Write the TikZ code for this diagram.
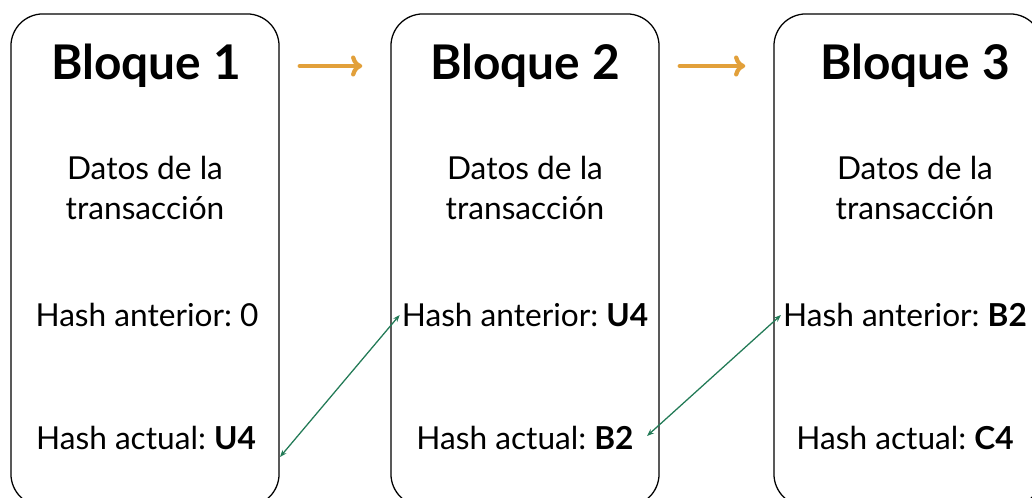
\documentclass[tikz,border=0pt]{standalone}
\usepackage{fontspec}
\setmainfont{Lato}
\usepackage{tikz}
\usetikzlibrary{arrows.meta}
\usetikzlibrary{positioning}
\frenchspacing
\definecolor{naranja}{RGB}{226,160,58}
\definecolor{verde}{RGB}{34,122,86}
\tikzset{bloque/.style = {draw, line width = 0.9pt, rounded corners = 0.8cm, minimum width = 6.7cm, minimum height = 12.3cm}}
\tikzset{titulo/.style = {font = \fontsize{34}{36}\selectfont\bfseries}}
\tikzset{texto/.style = {font = \fontsize{22.5}{28}\selectfont, align = center}}
\tikzset{flecha/.style = {naranja, line width = 3pt, line cap = round, -{To[length=8pt, width=15pt, line width=3pt]}}}
\tikzset{enlace/.style = {verde, line width = 0.9pt, {Stealth[length=5pt]}-{Stealth[length=5pt]}}}

\begin{document}
\begin{tikzpicture}[x = 0.025cm, y = -0.025cm]
      \clip (0, 0) rectangle (1032, 498);
      \fill[white] (0, 0) rectangle (1032, 498);

      \node [bloque] (b1) at (145, 260) {};
      \node [bloque] (b2) at (525, 260) {};
      \node [bloque] (b3) at (908, 260) {};

      \node [titulo] (t1) at (146, 66) {Bloque 1};
      \node [titulo] (t2) at (525, 66) {Bloque 2};
      \node [titulo] (t3) at (915, 66) {Bloque 3};

      \node [texto] (d1) at (145, 188) {Datos de la\\transacción};
      \node [texto] (d2) at (525, 188) {Datos de la\\transacción};
      \node [texto] (d3) at (915, 188) {Datos de la\\transacción};

      \node [texto] (ant1) at (147, 315) {Hash anterior: 0};
      \node [texto] (ant2) at (525, 315) {Hash anterior: \textbf{U4}};
      \node [texto] (ant3) at (905, 315) {Hash anterior: \textbf{B2}};

      \node [texto] (act1) at (146, 438) {Hash actual: \textbf{U4}};
      \node [texto] (act2) at (525, 438) {Hash actual: \textbf{B2}};
      \node [texto] (act3) at (905, 438) {Hash actual: \textbf{C4}};

      \draw [flecha, shorten < = 0.5cm, shorten > = 0.7cm] (b1.east |- t1) -- (b2.west |- t2);
      \draw [flecha, shorten < = 0.5cm, shorten > = 0.7cm] (b2.east |- t2) -- (b3.west |- t3);

      \coordinate (p1) at (280, 457);
      \coordinate (p2) at (647, 436);
      \draw [enlace] (p1) -- ([xshift = 2pt] ant2.west);
      \draw [enlace] (p2) -- ([xshift = 2pt] ant3.west);
    \end{tikzpicture}
\end{document}
